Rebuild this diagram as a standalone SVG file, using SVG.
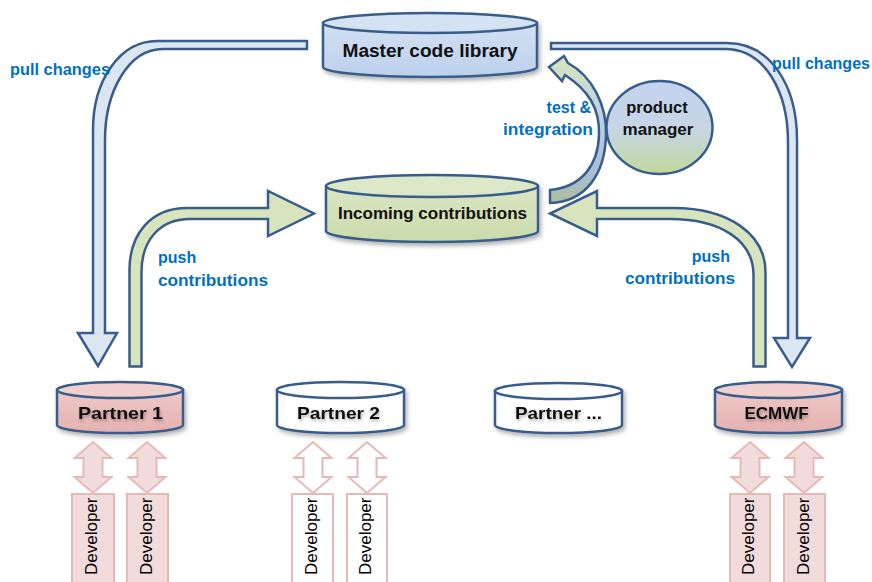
<svg xmlns="http://www.w3.org/2000/svg" width="872" height="582" viewBox="0 0 872 582">
<defs>
<style>
.cyl{stroke:#385d8a;stroke-width:2.5}
.arrow{stroke:#385d8a;stroke-width:2.5;stroke-linejoin:miter}
.pull{fill:#dce6f2}
.push{fill:#d7e4bd}
.lbl{font-family:"Liberation Sans",Arial,sans-serif;font-weight:bold;font-size:16px;fill:#0070c0}
.ntxt{font-family:"Liberation Sans",Arial,sans-serif;font-weight:bold;fill:#111;text-anchor:middle}
.dev{font-family:"Liberation Sans",Arial,sans-serif;font-size:17px;fill:#000}
.darr{stroke:#e6b9b8;stroke-width:2}
.dbox{stroke:#e6b9b8;stroke-width:2}
.pink{fill:#f2dcdb}
.white{fill:#ffffff}
</style>
<filter id="sh" x="-20%" y="-30%" width="140%" height="170%">
<feDropShadow dx="2" dy="3" stdDeviation="2" flood-color="#000" flood-opacity="0.3"/>
</filter>
<filter id="tsh" x="-10%" y="-40%" width="120%" height="180%">
<feDropShadow dx="1" dy="2" stdDeviation="1.5" flood-color="#000" flood-opacity="0.3"/>
</filter>
<linearGradient id="gBlue" x1="0" y1="0" x2="0" y2="1"><stop offset="0" stop-color="#d3e0f3"/><stop offset="1" stop-color="#bcd0ec"/></linearGradient>
<linearGradient id="gGreen" x1="0" y1="0" x2="0" y2="1"><stop offset="0" stop-color="#dbe6c4"/><stop offset="1" stop-color="#cadbaa"/></linearGradient>
<linearGradient id="gPink" x1="0" y1="0" x2="0" y2="1"><stop offset="0" stop-color="#efc9c8"/><stop offset="1" stop-color="#e4b1b0"/></linearGradient>
<linearGradient id="gPM" x1="0" y1="0" x2="0" y2="1"><stop offset="0" stop-color="#c3d3ee"/><stop offset="0.5" stop-color="#c6d6e6"/><stop offset="1" stop-color="#c3d89c"/></linearGradient>
<linearGradient id="gTest" x1="0" y1="0" x2="0" y2="1"><stop offset="0" stop-color="#d6e5bd"/><stop offset="0.45" stop-color="#bccfea"/><stop offset="0.8" stop-color="#a9bcd6"/><stop offset="1" stop-color="#aebf9c"/></linearGradient>
</defs>
<rect width="872" height="582" fill="#ffffff"/>

<g id="connectors">
<path id="pull-left" class="arrow pull" d="M307,41 L157,41 C120,41 93,80 93,130 L93,333 L78,333 L98,366 L117,333 L105,333 L105,140 C105,92 128,49 163,49 L307,49 Z"/>
<path id="push-left" class="arrow push" d="M129.5,366.5 L129.5,270 C129.5,235 150,208 187,208 L268,208 L268,191 L314,213.5 L268,236 L268,219 L190,219 C160,219 141.5,240 141.5,272 L141.5,366.5 Z"/>
<path id="pull-right" class="arrow pull" d="M551,43 L727,43 C770,43 797,85 797,140 L797,338 L810,338 L792,367 L774,338 L788,338 L788,142 C788,92 765,49 725,49 L551,49 Z"/>
<path id="push-right" class="arrow push" d="M765.5,366.5 L765.5,272 C765.5,235 730,208 673,208 L597,208 L597,191 L550,213.5 L597,236 L597,219 L670,219 C720,219 753.5,240 753.5,275 L753.5,366.5 Z"/>
<path id="test-arrow" class="arrow" fill="url(#gTest)" d="M550,190 C582,187 598,165 599,135 C600,108 588,90 565,75 L562,81 L549,67 L564,56 L568,63 C592,76 607,105 606,135 C605,175 585,202 550,203 Z"/>

<g id="dev-arrows">
<path class="darr pink" d="M93,442 L111.5,458 L102.5,458 L102.5,477 L111.5,477 L93,493 L74.5,477 L83.5,477 L83.5,458 L74.5,458 Z"/>
<path class="darr pink" d="M147,442 L165.5,458 L156.5,458 L156.5,477 L165.5,477 L147,493 L128.5,477 L137.5,477 L137.5,458 L128.5,458 Z"/>
<path class="darr white" d="M313,442 L331.5,458 L322.5,458 L322.5,477 L331.5,477 L313,493 L294.5,477 L303.5,477 L303.5,458 L294.5,458 Z"/>
<path class="darr white" d="M367,442 L385.5,458 L376.5,458 L376.5,477 L385.5,477 L367,493 L348.5,477 L357.5,477 L357.5,458 L348.5,458 Z"/>
<path class="darr pink" d="M750,442 L768.5,458 L759.5,458 L759.5,477 L768.5,477 L750,493 L731.5,477 L740.5,477 L740.5,458 L731.5,458 Z"/>
<path class="darr pink" d="M804,442 L822.5,458 L813.5,458 L813.5,477 L822.5,477 L804,493 L785.5,477 L794.5,477 L794.5,458 L785.5,458 Z"/>
</g>

<g id="connector-labels">
<text class="lbl" x="10" y="75" textLength="100" lengthAdjust="spacingAndGlyphs">pull changes</text>
<text class="lbl" x="772" y="69" textLength="98" lengthAdjust="spacingAndGlyphs">pull changes</text>
<text class="lbl" x="158" y="263">push</text>
<text class="lbl" x="158" y="286" textLength="110" lengthAdjust="spacingAndGlyphs">contributions</text>
<text class="lbl" x="730" y="262" text-anchor="end">push</text>
<text class="lbl" x="625" y="284" textLength="110" lengthAdjust="spacingAndGlyphs">contributions</text>
<text class="lbl" x="591" y="113" text-anchor="end">test &amp;</text>
<text class="lbl" x="503" y="135" textLength="90" lengthAdjust="spacingAndGlyphs">integration</text>
</g>
</g>

<g id="master" filter="url(#sh)">
<path class="cyl" fill="url(#gBlue)" d="M323,23 V67 A107,10 0 0 0 537,67 V23 Z"/>
<ellipse class="cyl" fill="#d5e2f4" cx="430" cy="23" rx="107" ry="10"/>
</g>
<text class="ntxt" x="430" y="57" font-size="18" textLength="175" lengthAdjust="spacingAndGlyphs">Master code library</text>

<g id="incoming" filter="url(#sh)">
<path class="cyl" fill="url(#gGreen)" d="M326,186 V231 A106,11 0 0 0 538,231 V186 Z"/>
<ellipse class="cyl" fill="#dde8c8" cx="432" cy="186" rx="106" ry="11"/>
</g>
<text class="ntxt" x="432.5" y="219" font-size="16.5" textLength="189" lengthAdjust="spacingAndGlyphs">Incoming contributions</text>

<g id="product-manager">
<ellipse class="cyl" fill="url(#gPM)" cx="659.5" cy="127.5" rx="53" ry="46.5"/>
<text class="ntxt" x="657" y="113" font-size="16.5">product</text>
<text class="ntxt" x="658" y="135" font-size="17">manager</text>
</g>

<g id="partner1">
<g filter="url(#sh)">
<path class="cyl" fill="url(#gPink)" d="M57,390 V425 A63,8 0 0 0 183,425 V390 Z"/>
<ellipse class="cyl" fill="#f0cfce" cx="120" cy="390" rx="63" ry="8"/>
</g>
<text class="ntxt" x="120.5" y="419" font-size="17" textLength="85" lengthAdjust="spacingAndGlyphs" filter="url(#tsh)">Partner 1</text>
</g>

<g id="partner2">
<g filter="url(#sh)">
<path class="cyl" fill="#ffffff" d="M277,390 V425 A63.5,8 0 0 0 404,425 V390 Z"/>
<ellipse class="cyl" fill="#ffffff" cx="340.5" cy="390" rx="63.5" ry="8"/>
</g>
<text class="ntxt" x="338.5" y="419" font-size="17" textLength="83" lengthAdjust="spacingAndGlyphs" filter="url(#tsh)">Partner 2</text>
</g>

<g id="partner-more">
<g filter="url(#sh)">
<path class="cyl" fill="#ffffff" d="M495,391 V425 A63.5,8 0 0 0 622,425 V391 Z"/>
<ellipse class="cyl" fill="#ffffff" cx="558.5" cy="391" rx="63.5" ry="8"/>
</g>
<text class="ntxt" x="558.5" y="419" font-size="17" textLength="87" lengthAdjust="spacingAndGlyphs" filter="url(#tsh)">Partner ...</text>
</g>

<g id="ecmwf">
<g filter="url(#sh)">
<path class="cyl" fill="url(#gPink)" d="M715,390 V425 A63.5,8 0 0 0 842,425 V390 Z"/>
<ellipse class="cyl" fill="#f0cfce" cx="778.5" cy="390" rx="63.5" ry="8"/>
</g>
<text class="ntxt" x="776.5" y="419" font-size="17" filter="url(#tsh)">ECMWF</text>
</g>

<g id="dev-p1a"><rect class="dbox pink" x="72" y="494" width="42" height="100"/><text class="dev" transform="translate(97,575) rotate(-90)">Developer</text></g>
<g id="dev-p1b"><rect class="dbox pink" x="127" y="494" width="41" height="100"/><text class="dev" transform="translate(151.5,575) rotate(-90)">Developer</text></g>
<g id="dev-p2a"><rect class="dbox white" x="292" y="494" width="41" height="100"/><text class="dev" transform="translate(316.5,575) rotate(-90)">Developer</text></g>
<g id="dev-p2b"><rect class="dbox white" x="347" y="494" width="40" height="100"/><text class="dev" transform="translate(371,575) rotate(-90)">Developer</text></g>
<g id="dev-ea"><rect class="dbox pink" x="730" y="494" width="40" height="100"/><text class="dev" transform="translate(754,575) rotate(-90)">Developer</text></g>
<g id="dev-eb"><rect class="dbox pink" x="784" y="494" width="41" height="100"/><text class="dev" transform="translate(808.5,575) rotate(-90)">Developer</text></g>
</svg>
